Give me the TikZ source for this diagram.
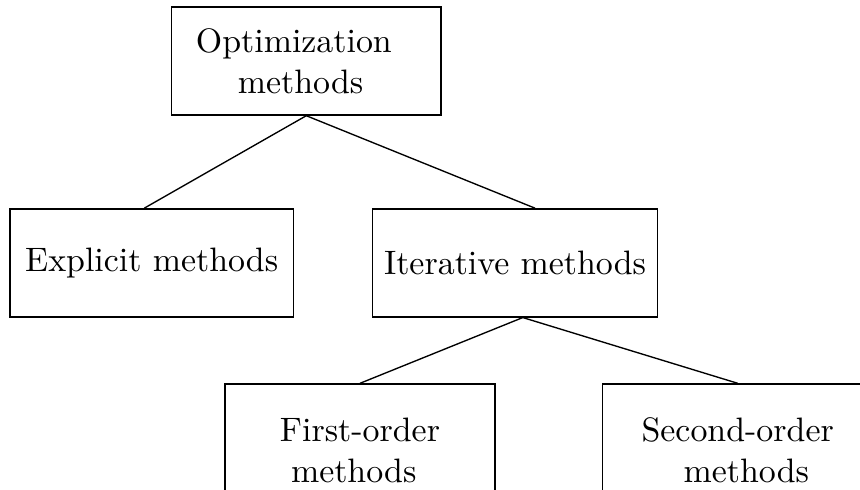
\documentclass[tikz,border=0pt]{standalone}
\usepackage{tikz}
\usetikzlibrary{positioning,calc}
\begin{document}
\begin{tikzpicture}
    % Stili
    \tikzset{
        methodbox/.style={rectangle, draw, minimum width=2.94cm, minimum height=1.12cm, text centered, align=center},
        leafbox/.style={methodbox, minimum width=2.8cm, minimum height=1.38cm},
        branch/.style={draw, thin}
    }
    \useasboundingbox (0,0) rectangle (8.918,-5.071);

    % Radice
    \node[methodbox, minimum width=2.793cm] (optim) at (3.176,-0.633) {\hspace*{-7.3pt}Optimization\\\hspace*{-3.4pt}methods};

    % Primo livello
    \node[methodbox] (explicit) at (1.573,-2.726) {Explicit methods};
    \node[methodbox] (iterative) at (5.341,-2.726) {Iterative methods};

    % Secondo livello
    \node[leafbox] (first) at (3.733,-4.672) {First-order\\\hspace*{-3.7pt}methods};
    \node[leafbox] (second) at (7.650,-4.672) {Second-order\\\hspace*{5.1pt}methods};

    % Rami
    \path[branch] (optim.south) -- ([xshift=-0.077cm]explicit.north);
    \path[branch] (optim.south) -- ([xshift=0.207cm]iterative.north);
    \foreach \leaf in {first,second} {
        \path[branch] ([xshift=0.08cm]iterative.south) -- (\leaf.north);
    }
\end{tikzpicture}
\end{document}
